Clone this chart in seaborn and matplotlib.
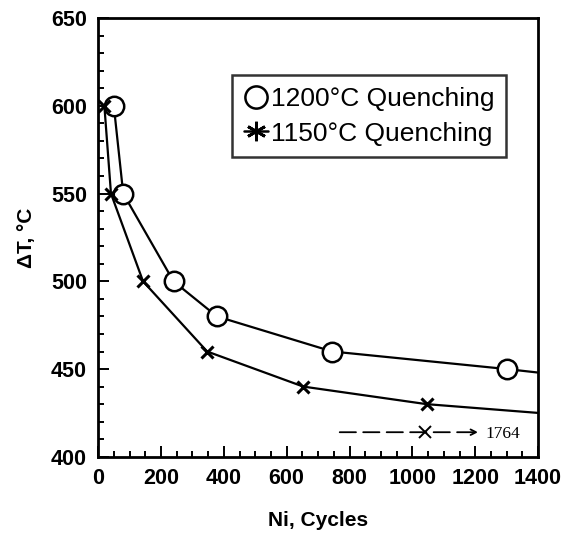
import matplotlib
matplotlib.use("Agg")
import matplotlib.pyplot as plt
import seaborn as sns
import pandas as pd

# data
cycles_1200 = [50, 80, 240, 378, 745, 1300]
dT_1200 = [600, 550, 500, 480, 460, 450]
tail_1200 = (1400, 448)

cycles_1150 = [20, 41, 143, 347, 653, 1045]
dT_1150 = [600, 550, 500, 460, 440, 430]
tail_1150 = (1400, 425)

runout_cycles = 1764
runout_dT = 414
runout_mark_x = 1040

sns.set_style("ticks", {'text.color': 'black', 'axes.labelcolor': 'black',
                        'xtick.color': 'black', 'ytick.color': 'black',
                        'axes.edgecolor': 'black'})
plt.rcParams['font.family'] = ['Liberation Sans', 'DejaVu Sans']

fig = plt.figure(figsize=(5.67, 5.33), dpi=100)
ax = fig.add_axes([0.173, 0.143, 0.776, 0.823])

line_1200 = pd.DataFrame({'N': cycles_1200 + [tail_1200[0]], 'dT': dT_1200 + [tail_1200[1]]})
line_1150 = pd.DataFrame({'N': cycles_1150 + [tail_1150[0]], 'dT': dT_1150 + [tail_1150[1]]})

sns.lineplot(data=line_1200, x='N', y='dT', color='black', lw=1.6, ax=ax, sort=False)
sns.lineplot(data=line_1150, x='N', y='dT', color='black', lw=1.6, ax=ax, sort=False)

ax.plot(cycles_1200, dT_1200, ls='none', marker='o', ms=14, mfc='white', mec='black',
        mew=1.8, zorder=3)
ax.plot(cycles_1150, dT_1150, ls='none', marker='x', ms=9, mec='black', mew=2.2, zorder=3)

# legend handles
h1, = ax.plot([], [], ls='none', marker='o', ms=16, mfc='white', mec='black', mew=1.8)
h2, = ax.plot([], [], color='black', lw=1.8, marker=(6, 2, 0), ms=14, mew=2)
leg = ax.legend([h1, h2], ['1200\u00b0C Quenching', '1150\u00b0C Quenching'],
                loc='upper left', bbox_to_anchor=(0.305, 0.87), fontsize=19,
                frameon=True, fancybox=False, handlelength=0.9, handletextpad=0.12,
                borderpad=0.45, labelspacing=0.4, borderaxespad=0)
leg.get_frame().set_edgecolor('black')
leg.get_frame().set_linewidth(1.8)

# run-out annotation
ax.annotate('', xy=(1218, runout_dT), xytext=(760, runout_dT),
            arrowprops=dict(arrowstyle='->', color='black', lw=1.3, linestyle=(0, (9, 4))))
ax.plot([runout_mark_x], [runout_dT], ls='none', marker='x', ms=9, mec='black', mew=1.4,
        zorder=4)
ax.text(1232, runout_dT - 1, str(runout_cycles), fontsize=12.5, va='center', ha='left',
        family=['Liberation Serif', 'DejaVu Serif'])

ax.set_xlim(0, 1400)
ax.set_ylim(400, 650)
ax.set_xticks(range(0, 1401, 200))
ax.set_yticks(range(400, 651, 50))
ax.set_xticks(range(0, 1401, 50), minor=True)
ax.set_yticks(range(400, 651, 10), minor=True)
ax.tick_params(which='both', direction='in', top=False, right=False, width=1.4)
ax.tick_params(which='major', length=8, labelsize=15.5, pad=8)
ax.tick_params(which='minor', length=4)
for lab in ax.get_xticklabels() + ax.get_yticklabels():
    lab.set_fontweight('bold')
for s in ax.spines.values():
    s.set_linewidth(2)

ax.set_xlabel('Ni, Cycles', fontsize=15, fontweight='bold', labelpad=16)
ax.set_ylabel('\u0394T, \u00b0C', fontsize=15, fontweight='bold', labelpad=11)

plt.savefig('out.png', dpi=100)
